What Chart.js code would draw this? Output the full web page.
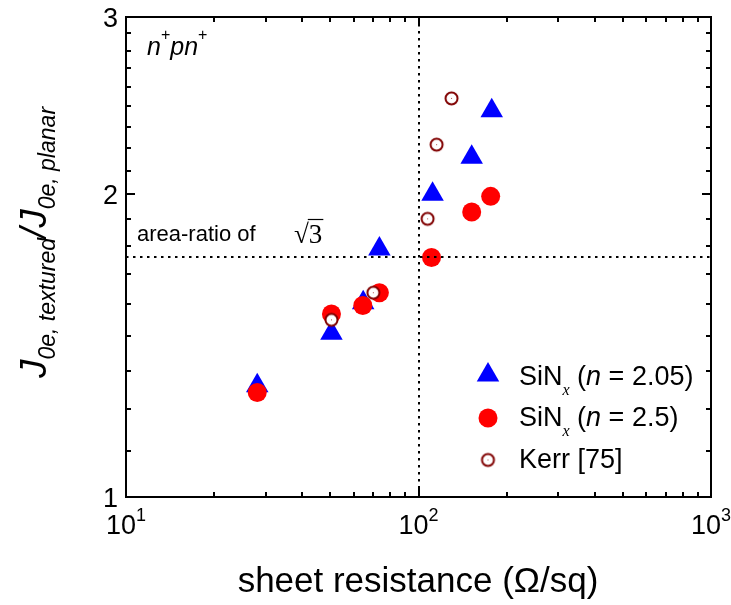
<!DOCTYPE html>
<html>
<head>
<meta charset="utf-8">
<script src="https://cdn.jsdelivr.net/npm/chart.js@4/dist/chart.umd.min.js"></script>
<style>
  html, body { margin: 0; padding: 0; background: #fff; }
  canvas { display: block; }
</style>
</head>
<body>
<canvas id="c" width="731" height="605"></canvas>
<script>
// Sheet resistance (Ohm/sq) and J0e ratio, SiNx n = 2.05
const sheetResLowN = [28.1, 50.4, 64.7, 73.5, 111.7, 152, 178];
const ratioLowN    = [1.29, 1.455, 1.56, 1.764, 2.0, 2.176, 2.42];
// SiNx n = 2.5
const sheetResHighN = [28.1, 50.4, 64.5, 73.5, 110.8, 152, 176.5];
const ratioHighN    = [1.27, 1.52, 1.55, 1.596, 1.73, 1.92, 1.99];
// Kerr [75]
const sheetResKerr = [50.4, 70.1, 107.4, 115.3, 129.7];
const ratioKerr    = [1.50, 1.596, 1.89, 2.24, 2.49];

// Axis ticks
const xMajorTicks = [10, 100, 1000];
const xExponents  = ['1', '2', '3'];
const xMinorTicks = [20, 30, 40, 50, 60, 70, 80, 90, 200, 300, 400, 500, 600, 700, 800, 900];
const yMajorTicks = [1, 2, 3];
const yMinorPerMajor = 9;          // subdivisions between major y ticks

// Reference lines
const areaRatio = Math.sqrt(3);
const refSheetRes = 100;

const SANS = '"Liberation Sans", Arial, sans-serif';
const SERIF = '"Liberation Serif", "Times New Roman", serif';

function makeKerrMarker() {
  const c = document.createElement('canvas');
  c.width = 17; c.height = 17;
  const g = c.getContext('2d');
  g.beginPath();
  g.arc(8.5, 8.5, 6, 0, Math.PI * 2);
  g.fillStyle = '#fff';
  g.fill();
  g.lineWidth = 2;
  g.strokeStyle = '#800000';
  g.stroke();
  g.fillStyle = '#b05050';
  g.fillRect(8, 8, 1, 1);
  return c;
}
const kerrMarker = makeKerrMarker();

const toPoints = (xs, ys) => xs.map((v, i) => ({ x: v, y: ys[i] }));

// draws a sequence of [text, font, dy] pieces starting at x, baseline y
function drawRuns(ctx, x, y, runs) {
  let cx = x;
  for (const [txt, font, dy] of runs) {
    ctx.font = font;
    ctx.fillText(txt, cx, y + (dy || 0));
    cx += ctx.measureText(txt).width;
  }
  return cx;
}
function runsWidth(ctx, runs) {
  let w = 0;
  for (const [txt, font] of runs) { ctx.font = font; w += ctx.measureText(txt).width; }
  return w;
}

const decorations = {
  id: 'decorations',
  afterDatasetsDraw(chart) {
    const { ctx, chartArea: a, scales: { x, y } } = chart;
    ctx.save();
    ctx.strokeStyle = '#000';
    ctx.fillStyle = '#000';

    // dotted reference lines
    ctx.lineWidth = 2;
    ctx.setLineDash([2.5, 4.5]);
    const vx = Math.round(x.getPixelForValue(refSheetRes));
    ctx.beginPath(); ctx.moveTo(vx, a.top); ctx.lineTo(vx, a.bottom); ctx.stroke();
    const hy = Math.round(y.getPixelForValue(areaRatio));
    ctx.beginPath(); ctx.moveTo(a.left, hy); ctx.lineTo(a.right, hy); ctx.stroke();
    ctx.setLineDash([]);

    // frame
    ctx.lineWidth = 2;
    ctx.strokeRect(a.left, a.top, a.right - a.left, a.bottom - a.top);

    // ticks, pointing inward on all four sides
    ctx.lineWidth = 2;
    ctx.beginPath();
    const xTick = (v, len) => {
      const p = Math.round(x.getPixelForValue(v));
      ctx.moveTo(p, a.bottom); ctx.lineTo(p, a.bottom - len);
      ctx.moveTo(p, a.top); ctx.lineTo(p, a.top + len);
    };
    const yTick = (v, len) => {
      const p = Math.round(y.getPixelForValue(v));
      ctx.moveTo(a.left, p); ctx.lineTo(a.left + len, p);
      ctx.moveTo(a.right, p); ctx.lineTo(a.right - len, p);
    };
    xMajorTicks.forEach(v => xTick(v, 9));
    xMinorTicks.forEach(v => xTick(v, 5));
    yMajorTicks.forEach((v, i) => {
      yTick(v, 9);
      if (i < yMajorTicks.length - 1) {
        const next = yMajorTicks[i + 1];
        for (let k = 1; k < yMinorPerMajor; k++) yTick(v + (next - v) * k / yMinorPerMajor, 5);
      }
    });
    ctx.stroke();

    // x tick labels 10^n
    ctx.textAlign = 'left';
    ctx.textBaseline = 'alphabetic';
    xMajorTicks.forEach((v, i) => {
      const runs = [['10', '27px ' + SANS, 0], [xExponents[i], '18px ' + SANS, -13]];
      const w = runsWidth(ctx, runs);
      drawRuns(ctx, x.getPixelForValue(v) - w / 2, 534, runs);
    });

    // y tick labels
    ctx.font = '27px ' + SANS;
    ctx.textAlign = 'right';
    yMajorTicks.forEach(v => {
      ctx.fillText(String(v), 118, y.getPixelForValue(v) + 10);
    });
    ctx.textAlign = 'left';

    // x axis title
    ctx.font = '35px ' + SANS;
    ctx.textAlign = 'center';
    ctx.fillText('sheet resistance (\u03A9/sq)', 418, 592);
    ctx.textAlign = 'left';

    // y axis title (rotated)
    ctx.save();
    ctx.translate(46, 378);
    ctx.rotate(-Math.PI / 2);
    drawRuns(ctx, 0, 0, [
      ['J', 'italic 37px ' + SANS, 0],
      ['0e, textured', 'italic 23px ' + SANS, 9],
      ['/', 'italic 37px ' + SANS, 0],
      ['J', 'italic 37px ' + SANS, 0],
      ['0e, planar', 'italic 23px ' + SANS, 9]
    ]);
    ctx.restore();

    // n+pn+ label
    drawRuns(ctx, 147, 55, [
      ['n', 'italic 25px ' + SANS, 0],
      ['+', '16px ' + SANS, -15],
      ['pn', 'italic 25px ' + SANS, 0],
      ['+', '16px ' + SANS, -15]
    ]);

    // area-ratio label with radical
    ctx.font = '22px ' + SANS;
    ctx.fillText('area-ratio of', 137, 241);
    ctx.font = '27px ' + SERIF;
    ctx.fillText('\u221A', 294, 243);
    const rw = ctx.measureText('\u221A').width;
    ctx.fillText('3', 294 + rw, 243);
    const tw = ctx.measureText('3').width;
    ctx.lineWidth = 1.2;
    ctx.beginPath();
    ctx.moveTo(294 + rw - 1, 219.5);
    ctx.lineTo(294 + rw + tw + 1, 219.5);
    ctx.stroke();

    // legend
    const ds = chart.data.datasets;
    const legendRows = [
      { ds: ds[0], my: 375, by: 385, runs: [
        ['SiN', '27px ' + SANS, 0], ['x', 'italic 16px ' + SERIF, 10],
        [' (', '27px ' + SANS, 0], ['n', 'italic 27px ' + SANS, 0], [' = 2.05)', '27px ' + SANS, 0]] },
      { ds: ds[1], my: 418, by: 426, runs: [
        ['SiN', '27px ' + SANS, 0], ['x', 'italic 16px ' + SERIF, 10],
        [' (', '27px ' + SANS, 0], ['n', 'italic 27px ' + SANS, 0], [' = 2.5)', '27px ' + SANS, 0]] },
      { ds: ds[2], my: 460, by: 468, runs: [['Kerr [75]', '27px ' + SANS, 0]] }
    ];
    legendRows.forEach(r => {
      ctx.save();
      ctx.fillStyle = r.ds.pointBackgroundColor;
      ctx.strokeStyle = r.ds.pointBorderColor;
      Chart.helpers.drawPoint(ctx, {
        pointStyle: r.ds.pointStyle, radius: r.ds.pointRadius,
        rotation: 0, borderWidth: r.ds.pointBorderWidth
      }, 488, r.my);
      ctx.restore();
      ctx.fillStyle = '#000';
      drawRuns(ctx, 519, r.by, r.runs);
    });

    ctx.restore();
  }
};

new Chart(document.getElementById('c'), {
  type: 'scatter',
  data: {
    datasets: [
      {
        label: 'SiNx (n = 2.05)',
        data: toPoints(sheetResLowN, ratioLowN),
        pointStyle: 'triangle', pointRadius: 13,
        pointBackgroundColor: '#0000ff', pointBorderColor: '#0000ff', pointBorderWidth: 0,
        order: 3
      },
      {
        label: 'SiNx (n = 2.5)',
        data: toPoints(sheetResHighN, ratioHighN),
        pointStyle: 'circle', pointRadius: 9.5,
        pointBackgroundColor: '#ff0000', pointBorderColor: '#ff0000', pointBorderWidth: 0,
        order: 2
      },
      {
        label: 'Kerr [75]',
        data: toPoints(sheetResKerr, ratioKerr),
        pointStyle: kerrMarker, pointRadius: 7,
        pointBackgroundColor: '#fff', pointBorderColor: '#800000', pointBorderWidth: 2,
        order: 1
      }
    ]
  },
  options: {
    responsive: false,
    animation: false,
    events: [],
    layout: { padding: { left: 126, top: 17, right: 20, bottom: 108 } },
    scales: {
      x: { type: 'logarithmic', min: 10, max: 1000, bounds: 'data', display: false },
      y: { type: 'logarithmic', min: 1, max: 3, bounds: 'data', display: false }
    },
    plugins: { legend: { display: false }, tooltip: { enabled: false } }
  },
  plugins: [decorations]
});
</script>
</body>
</html>
